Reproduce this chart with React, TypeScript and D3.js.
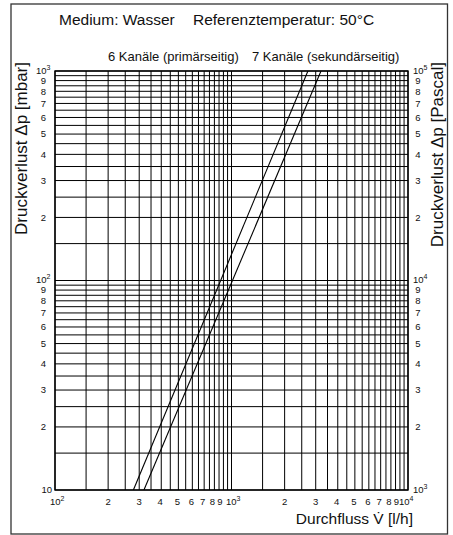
import React from 'react';
import * as d3 from 'd3';

// Data
const flowDecades = [100, 1000];
const dpDecades = [10, 100];
const gridSteps = [1, 1.5, 2, 2.5, 3, 3.5, 4, 4.5, 5, 5.5, 6, 6.5, 7, 7.5, 8, 8.5, 9, 9.5];
const labelDigits = [2, 3, 4, 5, 6, 7, 8, 9];
const flowDomain = [100, 10000];
const dpDomain = [10, 1000];
const pascalDomain = [1000, 100000];

const series6Flow = [278, 2710];
const series6Dp = [10, 1000];
const series7Flow = [319, 3214];
const series7Dp = [10, 1000];

const titleLeft = 'Medium: Wasser';
const titleRight = 'Referenztemperatur: 50°C';
const legend6 = '6 Kanäle (primärseitig)';
const legend7 = '7 Kanäle (sekundärseitig)';
const yTitleLeft = 'Druckverlust Δp [mbar]';
const yTitleRight = 'Druckverlust Δp [Pascal]';
const xTitle = 'Durchfluss V\u0307 [l/h]';

const W = 453, H = 535;
const L = 55, R = 408, T = 71, B = 490;
const FONT = '"Liberation Sans", Arial, Helvetica, sans-serif';

const digitOffset: Record<number, number> = { 2: 0, 3: 0, 4: -1, 5: -1, 6: -1, 7: -1.5, 8: -2, 9: -3.5 };

export default function App() {
  const x = d3.scaleLog().domain(flowDomain).range([L, R]);
  const y = d3.scaleLog().domain(dpDomain).range([B, T]);
  const yP = d3.scaleLog().domain(pascalDomain).range([B, T]);

  const xGrid: number[] = [];
  flowDecades.forEach(d => gridSteps.forEach(s => xGrid.push(s * d)));
  xGrid.push(flowDomain[1]);
  const yGrid: number[] = [];
  dpDecades.forEach(d => gridSteps.forEach(s => yGrid.push(s * d)));
  yGrid.push(dpDomain[1]);

  const line = d3.line<[number, number]>().x(d => x(d[0])).y(d => y(d[1]));
  const s6 = series6Flow.map((f, i) => [f, series6Dp[i]] as [number, number]);
  const s7 = series7Flow.map((f, i) => [f, series7Dp[i]] as [number, number]);

  const fs = 9.5;
  const sup = (base: string, exp: string) => (
    <>
      {base}
      <tspan fontSize={7} dy={-4}>{exp}</tspan>
    </>
  );

  return (
    <svg width={W} height={H} style={{ position: 'absolute', left: 0, top: 0 }} fontFamily={FONT}>
      <rect x={0} y={0} width={W} height={H} fill="#fff" />
      <rect x={11} y={4} width={436.5} height={530} fill="none" stroke="#333" strokeWidth={1.3} />

      <text x={59} y={25} fontSize={15.5} fill="#111">{titleLeft}</text>
      <text x={193} y={25} fontSize={15.5} fill="#111">{titleRight}</text>
      <text x={108} y={61} fontSize={13} fill="#111">{legend6}</text>
      <text x={252} y={61} fontSize={13} fill="#111">{legend7}</text>

      <g stroke="#000" strokeWidth={1} fill="none">
        {xGrid.map((v, i) => (
          <line key={'x' + i} x1={x(v)} x2={x(v)} y1={T} y2={B} />
        ))}
        {yGrid.map((v, i) => (
          <line key={'y' + i} x1={L} x2={R} y1={y(v)} y2={y(v)} />
        ))}
        <rect x={L} y={T} width={R - L} height={B - T} strokeWidth={1.4} />
      </g>

      <defs>
        <clipPath id="plotclip">
          <rect x={L} y={T} width={R - L} height={B - T} />
        </clipPath>
      </defs>
      <g clipPath="url(#plotclip)" fill="none" stroke="#000" strokeWidth={1.1}>
        <path d={line(s6) || ''} />
        <path d={line(s7) || ''} />
      </g>

      {/* x tick labels */}
      <g fontSize={fs} fill="#111">
        {flowDecades.map(d =>
          labelDigits.map(m => (
            <text key={'xl' + d + m} x={x(m * d) + digitOffset[m]} y={505} textAnchor="middle">{m}</text>
          ))
        )}
        <text x={x(100) - 5} y={505}>{sup('10', '2')}</text>
        <text x={x(1000) - 5.5} y={505}>{sup('10', '3')}</text>
        <text x={x(10000) - 9} y={505}>{sup('10', '4')}</text>
      </g>

      {/* left y tick labels */}
      <g fontSize={fs} fill="#111">
        {dpDecades.map(d =>
          labelDigits.map(m => (
            <text key={'yl' + d + m} x={46} y={y(m * d)} dy="0.35em" textAnchor="end">{m}</text>
          ))
        )}
        <text x={52} y={y(10)} dy="0.35em" textAnchor="end">10</text>
        <text x={36} y={y(100)} dy="0.3em">{sup('10', '2')}</text>
        <text x={36} y={y(1000)} dy="0.3em">{sup('10', '3')}</text>
      </g>

      {/* right y tick labels (Pascal) */}
      <g fontSize={fs} fill="#111">
        {[1000, 10000].map(d =>
          labelDigits.map(m => (
            <text key={'yr' + d + m} x={418} y={yP(m * d)} dy="0.35em" textAnchor="middle">{m}</text>
          ))
        )}
        <text x={413} y={yP(1000)} dy="0.3em">{sup('10', '3')}</text>
        <text x={413} y={yP(10000)} dy="0.3em">{sup('10', '4')}</text>
        <text x={413} y={yP(100000)} dy="0.3em">{sup('10', '5')}</text>
      </g>

      <text transform={`translate(27,62) rotate(-90)`} textAnchor="end" fontSize={17} fill="#111">{yTitleLeft}</text>
      <text transform={`translate(443,62) rotate(-90)`} textAnchor="end" fontSize={17} fill="#111">{yTitleRight}</text>
      <text x={413} y={524} textAnchor="end" fontSize={15.5} fill="#111">{xTitle}</text>
    </svg>
  );
}
